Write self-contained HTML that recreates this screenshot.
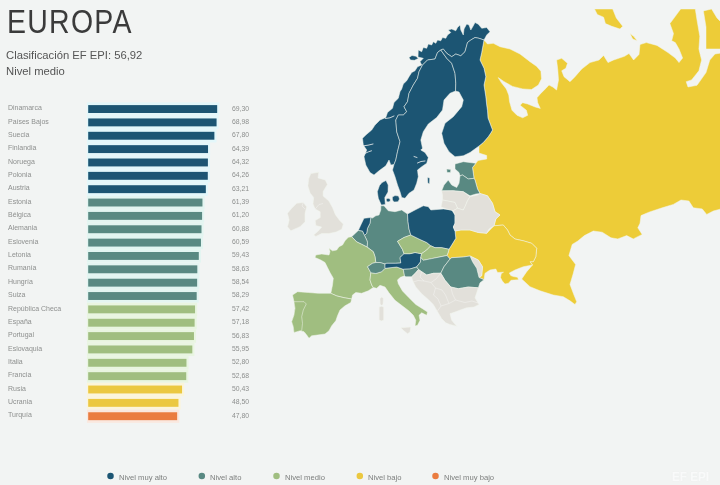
<!DOCTYPE html>
<html lang="es"><head><meta charset="utf-8"><title>EF EPI Europa</title>
<style>
html,body{margin:0;padding:0}
body{width:720px;height:485px;overflow:hidden;background:#f2f4f3;font-family:"Liberation Sans",sans-serif;position:relative}
#pg{position:absolute;left:0;top:0;width:720px;height:485px;overflow:hidden;background:#f2f4f3}
h1{position:absolute;left:7.1px;top:1.7px;margin:0;font-weight:400;font-size:33.1px;line-height:40px;letter-spacing:1.5px;color:#3b3b3b;transform-origin:0 0;transform:scaleX(.86);white-space:nowrap}
.sub{position:absolute;left:6.2px;font-size:11px;line-height:14px;color:#555;white-space:nowrap;transform-origin:0 0;transform:scaleX(1.023)}
.lb{position:absolute;left:7.8px;font-size:7.6px;line-height:10px;color:#8d8f8e;white-space:nowrap;transform-origin:0 0;transform:scaleX(.92)}
.vl{position:absolute;left:232.3px;font-size:7.6px;line-height:10px;color:#8d8f8e;white-space:nowrap;transform-origin:0 0;transform:scaleX(.9)}
.br{position:absolute;left:88.2px;height:8.2px}
.dot{position:absolute;top:472.6px;width:6.5px;height:6.5px;border-radius:50%}
.lt{position:absolute;top:472.6px;font-size:8px;line-height:10px;color:#7c7e7d;white-space:nowrap;transform-origin:0 0;transform:scaleX(.955)}
.wm{position:absolute;left:672px;top:468.7px;font-size:13px;font-weight:700;line-height:16px;color:#f9fafa;white-space:nowrap;text-shadow:0 0 1.5px #e9ebeb;transform-origin:0 0;transform:scaleX(.9)}
svg{position:absolute;left:0;top:0;filter:blur(.35px)}
svg.bsvg{filter:blur(.3px)}
.lb,.vl,.lt{filter:blur(.28px)}
h1,.sub{filter:blur(.3px)}
</style></head><body><div id="pg">
<svg width="720" height="485" viewBox="0 0 720 485">
<g stroke="#f2f5ee" stroke-opacity=".6" stroke-width=".85" stroke-linejoin="round">
<polygon fill="#edcc38" points="484,40 487.5,44 493.3,43.3 500,46.7 510,49 520,54 530,61.7 536.5,66.3 540.9,71.3 541.5,78.8 538.4,85 531.5,89.5 522.7,88.9 512.6,86.4 503.8,81.4 498.2,77.6 501.3,82.6 506.3,88.9 508.8,95.2 509.5,101.5 512,110.3 517,115.3 522.7,117.8 527.7,115.3 526.4,110.3 520.1,105.2 522.7,102.7 527.7,104 535.2,107 540.3,108.4 537.7,102.7 537,97.7 540.3,93.9 545.3,88.9 549,85 552.8,87 556.6,90 558.5,80 557.8,70 556.6,60 561.7,58.3 567.5,63.3 565.8,68.3 561.7,70.8 564,76.7 570,81.7 575,76.7 581.7,69 590,62.6 599,60 603.6,55.4 608,62.6 613.6,60 624.5,56.3 629,53.5 633.6,60 639,54.4 640,44.5 646.3,42.6 657,45.4 668,52.6 675.3,58 679,62.6 682.6,58 679,49 675.3,42.6 671.7,40.8 673.5,33.6 669.9,23.6 675.3,16.3 680.7,9 695.3,9 697,20 699.8,36.3 698.9,49 701.6,60 698.9,70.8 691.6,79.9 686.2,81.7 688,87 697,85.3 706,72.6 709.8,60 715,54 721,53 721,208.9 713.3,211 706.7,214.4 702.2,208.9 693.3,207.8 688.9,201 681,200 673.3,204.4 662.2,207.8 648.9,212.2 641,215.6 640,223.3 637.8,227.8 642.2,234.4 633.3,238.9 626.7,235.6 617.8,238.9 611,237.8 602.2,232.2 593.3,231 584.4,235.6 577.8,241 572.2,244.4 568.9,255.6 575.6,264.4 573.3,273.3 570,284.4 573.3,293.3 576.7,301.7 575,304.5 570,300.8 563.3,296.7 553.3,295 540,290.8 530,286.7 521.7,279 526.7,271.7 532.5,265 530,261.7 533.3,261.7 535.8,256.7 536.7,248.3 531.7,243.3 523.3,240.8 515,239 510,235 507.5,230 503.3,225 494,225.8 495.8,219 500,215 495,211.7 492.5,203.3 487.5,195.8 480,193.5 477.5,189 475,180 474,178.3 472.5,167.5 475.8,163.3 475.8,163.3 478,160.5 486.7,159 486.7,155.5 479,153 479,146 483.3,142.5 488.3,136.7 490.8,133 492.5,130 488,118 487.5,110.8 486.7,105 485.8,96.7 484,85 485.8,76.7 484,68.3 480,60 481.7,52.5 484,40"/>
<polygon fill="#edcc38" points="703.4,10.9 711.6,9 717,18 721,22 721,49 706,49 706,27"/>
<polygon fill="#edcc38" points="594.5,9 612.7,9 616.3,18 622.7,26.3 620,29 611.8,26.3 605.4,23.6 603.6,17.2 597.3,14.5"/>
<polygon fill="#edcc38" points="630,33.6 633.6,36.3 637.2,40.8 632.7,39"/>
<polygon fill="#edcc38" points="455,231 460.8,230 470,230 478.3,232.5 486.7,233.3 494,225.8 503.3,225 507.5,230 510,235 515,239 523.3,240.8 531.7,243.3 536.7,248.3 535.8,256.7 533.3,261.7 530,261.7 532.5,265 523.3,266.7 515,270 509.3,273 510.8,275.6 513.3,276.5 517.5,277.3 518.6,279.8 514,280 511,280.3 508.5,283.2 505,284 502.3,281 500.5,277.5 501.3,273.6 503.5,272.2 497.5,272.5 495.8,269 490,270 485,273.3 484,279.7 479,277.5 481.7,275.8 482.5,266.7 478.3,260 470,256 463.3,257 451.7,257.7 450,259 447,255.5 448.3,252 449,249.3 451.7,245 455.8,238.3"/>
<polygon fill="#e2e0da" points="470,256 478.3,260 482.5,266.7 481.7,275.8 479,277.5 476.7,268.3 472.5,261.7"/>
<polygon fill="#1c5573" points="394,164.5 390.8,165 389,160 385.8,165.8 379,170.8 374,175 370,172.5 365.8,165 364,156.7 366.7,150 363.3,145 362.5,138.3 365.8,135 371.7,130 375,125 380,120 385.8,117.5 387.5,112.5 392.5,108.3 394,102.5 398.3,98.3 400,91.7 401.7,89 403.3,84 406.7,80.8 409,76.7 411.7,72.5 415,70.8 417.5,66.7 421.7,65 420,61.7 423.3,58.3 418,57 418.3,50 421.7,51.7 423.3,47.5 426.7,48.3 428.3,44 431.7,45 433.3,41.7 435.8,43.3 437.5,40 440.8,40.8 442.5,37.5 445.8,38.3 447.5,35 450.8,32.5 448.3,30 451.7,29 455.8,30.8 457.5,27.5 460,25 460.8,30 463.3,35 464,29 466.7,24 469,25 470.8,30 473.3,25.8 475,22.5 478.3,24.2 481.7,28.3 486.7,27.5 490,31.7 486.7,35 484,40 479,38.3 475,37.5 470.8,40 467.5,42.5 465,51.7 460.8,55.8 455.8,54 451.7,56.7 446.7,53.3 443.3,49 440.8,50 437.5,52.5 435,59 427.5,60 422.5,65 419,71.7 417.5,78.3 413.3,85 409,93.3 407.5,101.7 404,106.7 406.7,111.7 403.3,115 398.3,115 395.8,120 396.7,131.7 400,141.7 397.5,151.7 395.8,160"/>
<polygon fill="#1c5573" points="440.8,50 437.5,52.5 435,59 427.5,60 422.5,65 419,71.7 417.5,78.3 413.3,85 409,93.3 407.5,101.7 404,106.7 406.7,111.7 403.3,115 398.3,115 395.8,120 396.7,131.7 400,141.7 397.5,151.7 395.8,160 394,164.5 392.5,170 395,176.7 397.5,185 400,191.7 401.7,197.5 405,198.3 409,193.3 414,190 416.7,183.3 418.3,176.7 417.5,170 421.7,166.7 426.7,163.3 428.3,157.5 425,152.5 420.8,150 422.5,148.3 420.8,140 423.3,131.7 428.3,124 436.7,117.5 442.5,110 444,100 450,93.3 455.5,91 455.8,83.3 455,73.3 451.7,63.3 446.7,58.3"/>
<polygon fill="#1c5573" points="440.8,50 443.3,49 446.7,53.3 451.7,56.7 455.8,54 460.8,55.8 465,51.7 467.5,42.5 470.8,40 475,37.5 479,38.3 484,40 481.7,52.5 480,60 484,68.3 485.8,76.7 484,85 485.8,96.7 486.7,105 487.5,110.8 488,118 492.5,130 490.8,133 488.3,136.7 483.3,142.5 479,146 470,152.5 463.3,155.8 455,156.7 449,151.7 444,143.3 441.7,133.3 445,123.3 453.3,116.7 461.7,106.7 463.3,100 459,92 455.5,91 455.8,83.3 455,73.3 451.7,63.3 446.7,58.3"/>
<polygon fill="#1c5573" points="409,57.5 412,55.5 416,56.3 418.3,58.5 414.5,60.3 410.5,60"/>
<polygon fill="#1c5573" points="427.5,177.5 429.7,178 429.5,184 427.8,183"/>
<polygon fill="#1c5573" points="386,180.5 382,182.5 379.5,185.5 377.3,191.7 378.3,198.3 381.3,205 385.3,204.5 384.8,197.5 388,192 388.2,185"/>
<polygon fill="#1c5573" points="386.2,199 388,198.2 390.2,199 390.2,201.3 388,202 386.5,201.3"/>
<polygon fill="#1c5573" points="392.3,197 395,195.6 398.5,196 399.5,199 398,201.8 394,202 392.5,200"/>
<polygon fill="#598982" points="380.8,205.8 384,205.8 388.3,210.8 395,211.7 401.7,210 407.5,214 408,221.7 409,229 410.8,235 404,237.5 397.5,241.3 402.5,249.5 404,253.7 400,257.5 400.8,263 395.8,263.3 386.7,263.3 385,264 380,262.5 375.8,262.5 375,256.7 373.3,251.7 367,247 367.5,242.5 366.7,240 364.5,235.5 366.7,233.3 367.5,228.3 370,223.3 370.8,217.5 372.5,218 375.8,215.8 379,215 380.8,210"/>
<polygon fill="#1c5573" points="364,218.3 370.8,217.5 370,223.3 367.5,228.3 366.7,233.3 364.5,235.5 362.5,231.2 358.3,230.5 360.8,225"/>
<polygon fill="#598982" points="351.7,236.7 358.3,230.5 362.5,231.2 364.5,235.5 366.7,240 367.5,242.5 367,247 361.7,244.3 356.7,241.9"/>
<polygon fill="#a0be80" points="348.3,237.3 351.7,236.7 356.7,241.9 361.7,244.3 367,247 373.3,251.7 375,256.7 375.8,262.5 372.5,263.3 367.5,266.7 370.8,272.7 370,280 371.7,285 373.3,287.5 368.3,290.8 361.7,293.3 355.8,292.5 352.5,295 351.7,299 344,297.7 336.7,295.9 330.8,293.3 332.5,285 333.3,278.3 330,272.5 327.5,267.5 325,262.5 320.8,260 315,257.5 315.8,255 321.7,254 329,255 330,251.7 329,248.3 332.5,250.8 336.7,250 339,246.7 342.5,245 345,240.8"/>
<polygon fill="#a0be80" points="292.5,295 297.5,291.7 308.3,292.5 318.3,293.3 330.8,293.3 336.7,295.9 344,297.7 351.7,299 350.8,302.5 345,305.8 340,310 337.5,315.8 335.8,320.8 331.7,325.8 329,330.8 325,334 317.5,335 311.7,335.8 309,338.3 306.7,335 304,331.7 300,330.8 294,332.5 293.3,326.7 291.7,321.7 294,315 295,308.3 294,301.7"/>
<polygon fill="#a0be80" points="294,301.7 304,301.7 306.3,304 303.3,310 301.7,316.7 302.5,323.3 301.7,330.6 300,330.8 294,332.5 293.3,326.7 291.7,321.7 294,315 295,308.3"/>
<polygon fill="#a0be80" points="370.8,272.7 375.8,273.5 381.7,271.7 385,268.3 396.7,267 403.3,269.3 404.5,275.8 400,277.5 397.5,280 398.3,283.7 402.5,291 409,297.8 415.8,304.5 422.5,308.7 427.5,312 426.7,315.3 421.7,312.8 419,315.3 420,320.3 417.5,325.3 415,326 415.8,320.3 413.3,315.3 409,311 402.5,306 395,300.3 389,292.8 385,287 380,285.3 376.7,288.3 373.3,287.5 371.7,285 370,280"/>
<polygon fill="#598982" points="367.5,266.7 372.5,263.3 375.8,262.5 380,262.5 385,264 385,268.3 381.7,271.7 375.8,273.5 370.8,272.7"/>
<polygon fill="#1c5573" points="385,264 386.7,263.3 395.8,263.3 400.8,263 400,257.5 404,253.7 410,253.7 415,252.5 421.5,253.7 420.8,257.5 420.5,262 416.5,267 410,269 403.3,269.3 396.7,267 385,268.3"/>
<polygon fill="#a0be80" points="397.5,241.3 404,237.5 410.8,235 420,239.5 426.7,242.5 430.8,245.8 426.7,250 421.5,253.7 415,252.5 410,253.7 404,253.7 402.5,249.5"/>
<polygon fill="#1c5573" points="407.5,214 415,210 423.3,205.8 428.3,206.7 430.8,210 443.3,209 451.7,210 455,215 455,223.3 453.3,227 455,231 455.8,238.3 451.7,245 449,249.3 441.7,247.7 435,247.7 430.8,245.8 426.7,242.5 420,239.5 410.8,235 409,229 408,221.7"/>
<polygon fill="#a0be80" points="421.5,253.7 426.7,250 430.8,245.8 435,247.7 441.7,247.7 449,249.3 448.3,252 447,255.5 440,256.9 431.7,258.6 423.3,260.3 420.8,257.5"/>
<polygon fill="#598982" points="420.8,257.5 423.3,260.3 431.7,258.6 440,256.9 447,255.5 450,259 444,266.7 440.8,273.2 433.3,273.3 426.7,275 421.7,271.7 418.5,269.5 416.5,267 420.5,262"/>
<polygon fill="#598982" points="403.3,269.3 410,269 416.5,267 418.5,269.5 415.3,273.3 411.7,276.7 405.8,276.7 404.5,275.8"/>
<polygon fill="#598982" points="450,259 451.7,257.7 463.3,257 470,256 472.5,261.7 476.7,268.3 479,277.5 484,279.7 480,282.8 478.3,287.8 468.3,287 458.3,288.7 450.8,287 445,280.3 440.8,273.2 444,266.7"/>
<polygon fill="#598982" points="455,164 463.3,161.7 475.8,163.3 472.5,167.5 474,178.3 468.3,179 462.5,175 460,175.8 459,172.5 455,169"/>
<polygon fill="#598982" points="446.7,169 450.8,169.5 450.5,172.5 447,172.5"/>
<polygon fill="#598982" points="460,175.8 462.5,175 468.3,179 474,178.3 475,180 477.5,189 480,193.5 475.8,194 470,195.8 463.3,191.7 453.3,190.8 441.7,190.8 444,185 448.3,180 451.7,185 456.7,187.5 459,183.3"/>
<polygon fill="#e2e0da" points="442.5,195 441.7,191 453.3,190.8 463.3,191.7 470,196.7 467.5,200.8 465,206.7 463.3,210 457.5,208.3 455,202.5 446.7,200.8 442.5,200"/>
<polygon fill="#e2e0da" points="442.5,200 446.7,200.8 455,202.5 457.5,208.3 453.3,210.8 446.7,209 441,207"/>
<polygon fill="#e2e0da" points="467.5,200.8 470,196.7 477.5,195 480,193.5 487.5,195.8 492.5,203.3 495,211.7 500,215 495.8,219 494,225.8 489,229 486.7,233.3 478.3,232.5 470,230 460.8,230 455,231 453.3,227 455,223.3 455,215 453.3,210.8 457.5,208.3 463.3,210 465,206.7"/>
<polygon fill="#e2e0da" points="411.7,276.7 415.3,273.3 418.5,269.5 421.7,271.7 426.7,275 433.3,273.3 440.8,273.2 445,280.3 450.8,287 458.3,288.7 468.3,287 478.3,287.8 476.7,292.8 475,297.8 479,304.5 474,307 466.7,307.8 461.7,309.5 455,312 450,313.7 451.7,320.3 456.7,326.2 450,324.5 445.8,322.8 441.7,318.7 436.7,310.3 433.3,304.5 428.3,299.5 421.7,293.7 415.8,287 413.3,282 412.3,279.5"/>
<polygon fill="#e2e0da" points="310.8,173.6 318.8,172.2 318,177.9 325.3,180.1 327.4,184.4 323.1,191.6 323.1,196 328.9,201 332.5,207.5 335.4,214.7 339.7,220.5 343.3,224.1 341.8,229.2 336.1,232 328.9,233.5 321.6,233.5 315.9,236.4 313.7,234.9 318.8,230.6 321.6,227 315.9,225.6 315.2,220.5 320.2,217.6 320.2,211.8 315.2,209 313,203.9 313.7,197.4 310.1,193.1 307.9,185.9 308.7,178.7"/>
<polygon fill="#e2e0da" points="296.7,203.3 303.3,202.5 306.7,206.7 305,213.3 305,221.7 300,226.7 290.8,230.8 287.5,226.7 289.2,220 287.5,213.3 291.7,208.3"/>
<polygon fill="#e2e0da" points="379.2,307 381.5,306.3 383.7,307 383.7,320 381.5,321 379.2,320"/>
<polygon fill="#e2e0da" points="380,298.5 381.8,297 383.3,298.5 383,304.5 381.5,305.3 380.2,304"/>
<polygon fill="#e2e0da" points="400.8,327.8 410.8,327 410,332 407.5,333.7 403.3,330.3"/>
</g><g fill="none" stroke="#f4f5f2" stroke-opacity=".7" stroke-width=".7" stroke-linejoin="round">
<polyline points="450.8,287 452.5,294 455.5,300 465,302.5 472,301 478,303"/>
<polyline points="455.5,300 449,303.5 441,306 437.5,311"/>
<polyline points="421.7,271.7 420,277 424,281 431,282.5 435.5,288 433.5,295 438,299 441,306"/>
<polyline points="431,282.5 436,279 440.8,273.2"/>
<polyline points="435.5,288 442,290 445.5,295 449,303.5"/>
<polyline points="413.3,282 418,280.5 424,281"/>
<polyline points="315.2,209 319,204.5 323,203.5"/>
<polyline points="303.3,202.5 302,206 305,209"/>
</g><g fill="none" stroke="#f2f4f3" stroke-opacity=".8" stroke-width="1" stroke-linecap="round">
<polyline points="385.5,118.5 390,117.8 394,116"/>
<polyline points="363.5,145.8 368,145.2 373,144"/>
<polyline points="365.2,153.3 368.5,151.8 371.5,150.8"/>
<polyline points="417.5,163 421,161.5 425,161"/>
<polyline points="414,156.5 417,157.5"/>
</g></svg>
<svg class="bsvg" width="720" height="485" viewBox="0 0 720 485"><rect x="86.90" y="102.40" width="132.37" height="13.30" fill="#e3f7fa"/><rect x="86.90" y="115.75" width="131.77" height="13.30" fill="#e3f7fa"/><rect x="86.90" y="129.11" width="129.58" height="13.30" fill="#e3f7fa"/><rect x="86.90" y="142.47" width="123.23" height="13.30" fill="#e3f7fa"/><rect x="86.90" y="155.82" width="123.10" height="13.30" fill="#e3f7fa"/><rect x="86.90" y="169.18" width="122.99" height="13.30" fill="#e3f7fa"/><rect x="86.90" y="182.53" width="121.03" height="13.30" fill="#e3f7fa"/><rect x="86.90" y="195.88" width="117.65" height="13.30" fill="#e3f5f1"/><rect x="86.90" y="209.24" width="117.29" height="13.30" fill="#e3f5f1"/><rect x="86.90" y="222.60" width="116.70" height="13.30" fill="#e3f5f1"/><rect x="86.90" y="235.95" width="116.16" height="13.30" fill="#e3f5f1"/><rect x="86.90" y="249.31" width="114.00" height="13.30" fill="#e3f5f1"/><rect x="86.90" y="262.66" width="112.51" height="13.30" fill="#e3f5f1"/><rect x="86.90" y="276.02" width="112.34" height="13.30" fill="#e3f5f1"/><rect x="86.90" y="289.37" width="111.88" height="13.30" fill="#e3f5f1"/><rect x="86.90" y="302.73" width="110.26" height="13.30" fill="#e9f5e1"/><rect x="86.90" y="316.08" width="109.81" height="13.30" fill="#e9f5e1"/><rect x="86.90" y="329.44" width="109.16" height="13.30" fill="#e9f5e1"/><rect x="86.90" y="342.79" width="107.52" height="13.30" fill="#e9f5e1"/><rect x="86.90" y="356.15" width="101.66" height="13.30" fill="#e9f5e1"/><rect x="86.90" y="369.50" width="101.44" height="13.30" fill="#e9f5e1"/><rect x="86.90" y="382.85" width="97.25" height="13.30" fill="#fbf5da"/><rect x="86.90" y="396.21" width="93.66" height="13.30" fill="#fbf5da"/><rect x="86.90" y="409.56" width="92.36" height="13.30" fill="#fae8df"/><rect x="88.20" y="105.10" width="128.97" height="7.90" fill="#1c5573"/><rect x="88.20" y="118.45" width="128.37" height="7.90" fill="#1c5573"/><rect x="88.20" y="131.81" width="126.18" height="7.90" fill="#1c5573"/><rect x="88.20" y="145.16" width="119.83" height="7.90" fill="#1c5573"/><rect x="88.20" y="158.52" width="119.70" height="7.90" fill="#1c5573"/><rect x="88.20" y="171.88" width="119.59" height="7.90" fill="#1c5573"/><rect x="88.20" y="185.23" width="117.63" height="7.90" fill="#1c5573"/><rect x="88.20" y="198.58" width="114.25" height="7.90" fill="#598982"/><rect x="88.20" y="211.94" width="113.89" height="7.90" fill="#598982"/><rect x="88.20" y="225.30" width="113.30" height="7.90" fill="#598982"/><rect x="88.20" y="238.65" width="112.76" height="7.90" fill="#598982"/><rect x="88.20" y="252.00" width="110.60" height="7.90" fill="#598982"/><rect x="88.20" y="265.36" width="109.11" height="7.90" fill="#598982"/><rect x="88.20" y="278.72" width="108.94" height="7.90" fill="#598982"/><rect x="88.20" y="292.07" width="108.48" height="7.90" fill="#598982"/><rect x="88.20" y="305.43" width="106.86" height="7.90" fill="#a0be80"/><rect x="88.20" y="318.78" width="106.41" height="7.90" fill="#a0be80"/><rect x="88.20" y="332.13" width="105.76" height="7.90" fill="#a0be80"/><rect x="88.20" y="345.49" width="104.12" height="7.90" fill="#a0be80"/><rect x="88.20" y="358.85" width="98.26" height="7.90" fill="#a0be80"/><rect x="88.20" y="372.20" width="98.04" height="7.90" fill="#a0be80"/><rect x="88.20" y="385.55" width="93.85" height="7.90" fill="#ebc840"/><rect x="88.20" y="398.91" width="90.26" height="7.90" fill="#ebc840"/><rect x="88.20" y="412.26" width="88.96" height="7.90" fill="#ea7c40"/><circle cx="110.50" cy="475.9" r="3.25" fill="#1c5573"/><circle cx="201.80" cy="475.9" r="3.25" fill="#598982"/><circle cx="276.50" cy="475.9" r="3.25" fill="#a0be80"/><circle cx="359.80" cy="475.9" r="3.25" fill="#ebc840"/><circle cx="435.50" cy="475.9" r="3.25" fill="#ea7c40"/></svg>
<h1>EUROPA</h1>
<div class="sub" style="top:48.3px">Clasificación EF EPI: 56,92</div>
<div class="sub" style="top:63.8px">Nivel medio</div>
<div class="lb" style="top:103.20px">Dinamarca</div><div class="vl" style="top:103.50px">69,30</div>
<div class="lb" style="top:116.55px">Países Bajos</div><div class="vl" style="top:116.86px">68,98</div>
<div class="lb" style="top:129.91px">Suecia</div><div class="vl" style="top:130.21px">67,80</div>
<div class="lb" style="top:143.26px">Finlandia</div><div class="vl" style="top:143.56px">64,39</div>
<div class="lb" style="top:156.62px">Noruega</div><div class="vl" style="top:156.92px">64,32</div>
<div class="lb" style="top:169.97px">Polonia</div><div class="vl" style="top:170.28px">64,26</div>
<div class="lb" style="top:183.33px">Austria</div><div class="vl" style="top:183.63px">63,21</div>
<div class="lb" style="top:196.68px">Estonia</div><div class="vl" style="top:196.98px">61,39</div>
<div class="lb" style="top:210.04px">Bélgica</div><div class="vl" style="top:210.34px">61,20</div>
<div class="lb" style="top:223.40px">Alemania</div><div class="vl" style="top:223.70px">60,88</div>
<div class="lb" style="top:236.75px">Eslovenia</div><div class="vl" style="top:237.05px">60,59</div>
<div class="lb" style="top:250.10px">Letonia</div><div class="vl" style="top:250.41px">59,43</div>
<div class="lb" style="top:263.46px">Rumanía</div><div class="vl" style="top:263.76px">58,63</div>
<div class="lb" style="top:276.82px">Hungría</div><div class="vl" style="top:277.12px">58,54</div>
<div class="lb" style="top:290.17px">Suiza</div><div class="vl" style="top:290.47px">58,29</div>
<div class="lb" style="top:303.53px">República Checa</div><div class="vl" style="top:303.82px">57,42</div>
<div class="lb" style="top:316.88px">España</div><div class="vl" style="top:317.18px">57,18</div>
<div class="lb" style="top:330.24px">Portugal</div><div class="vl" style="top:330.53px">56,83</div>
<div class="lb" style="top:343.59px">Eslovaquia</div><div class="vl" style="top:343.89px">55,95</div>
<div class="lb" style="top:356.95px">Italia</div><div class="vl" style="top:357.25px">52,80</div>
<div class="lb" style="top:370.30px">Francia</div><div class="vl" style="top:370.60px">52,68</div>
<div class="lb" style="top:383.65px">Rusia</div><div class="vl" style="top:383.95px">50,43</div>
<div class="lb" style="top:397.01px">Ucrania</div><div class="vl" style="top:397.31px">48,50</div>
<div class="lb" style="top:410.37px">Turquía</div><div class="vl" style="top:410.66px">47,80</div>
<div class="lt" style="left:118.6px">Nivel muy alto</div>
<div class="lt" style="left:209.9px">Nivel alto</div>
<div class="lt" style="left:284.7px">Nivel medio</div>
<div class="lt" style="left:367.9px">Nivel bajo</div>
<div class="lt" style="left:443.6px">Nivel muy bajo</div>
<div class="wm">EF EPI</div>
</div></body></html>
